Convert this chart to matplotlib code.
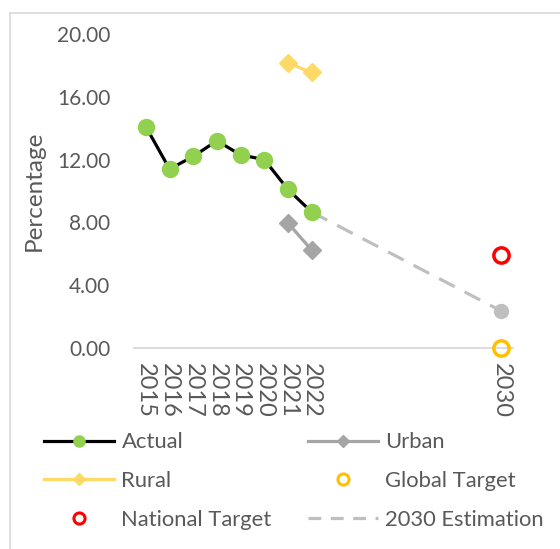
import matplotlib
matplotlib.use("Agg")
import matplotlib.pyplot as plt
from matplotlib.lines import Line2D

plt.rcParams['font.family'] = ['Lato', 'DejaVu Sans']

years = [2015, 2016, 2017, 2018, 2019, 2020, 2021, 2022]
actual = [14.1, 11.4, 12.2, 13.2, 12.3, 12.0, 10.1, 8.66]
urban_years = [2021, 2022]
urban = [7.96, 6.24]
rural_years = [2021, 2022]
rural = [18.15, 17.55]
est_years = [2022, 2030]
estimation = [8.66, 2.36]
target_year = [2030]
global_target = [0.0]
national_target = [5.95]
tick_years = [2015, 2016, 2017, 2018, 2019, 2020, 2021, 2022, 2030]
y_ticks = [0, 4, 8, 12, 16, 20]

TXT = '#595959'
fig = plt.figure(figsize=(5.6, 5.49), dpi=100)
ax = fig.add_axes([134/560, 1-348/549, 379/560, 314/549])

l_est, = ax.plot(est_years, estimation, color='#BFBFBF', lw=2.3, ls=(0, (5.5, 3.5)),
                 marker='o', markevery=[1], markersize=10, markerfacecolor='#BFBFBF',
                 markeredgecolor='#BFBFBF', zorder=2)
l_act, = ax.plot(years, actual, color='black', lw=2.3, marker='o', markersize=11.5,
                 markerfacecolor='#92D050', markeredgecolor='#92D050', zorder=3)
l_urb, = ax.plot(urban_years, urban, color='#A5A5A5', lw=2.3, marker='D', markersize=9,
                 markerfacecolor='#A5A5A5', markeredgecolor='#A5A5A5', zorder=3)
l_rur, = ax.plot(rural_years, rural, color='#FFD966', lw=2.3, marker='D', markersize=9,
                 markerfacecolor='#FFD966', markeredgecolor='#FFD966', zorder=3)
l_glo, = ax.plot(target_year, global_target, ls='none', marker='o', markersize=11,
                 markerfacecolor='none', markeredgecolor='#FFC000', markeredgewidth=2.5,
                 zorder=4, clip_on=False)
l_nat, = ax.plot(target_year, national_target, ls='none', marker='o', markersize=11,
                 markerfacecolor='none', markeredgecolor='#FF0000', markeredgewidth=2.5,
                 zorder=4)

ax.set_xlim(2014.5, 2030.5)
ax.set_ylim(0, 20)
ax.set_xticks(tick_years)
ax.set_xticklabels([str(y) for y in tick_years], rotation=-90, fontsize=17, color=TXT)
ax.set_yticks(y_ticks)
ax.set_yticklabels([f'{v:.2f}' for v in y_ticks], fontsize=15, color=TXT)
ax.tick_params(axis='both', length=0)
ax.tick_params(axis='y', pad=17)
ax.tick_params(axis='x', pad=11)
for s in ['top', 'right', 'left']:
    ax.spines[s].set_visible(False)
ax.spines['bottom'].set_color('#D9D9D9')
ax.spines['bottom'].set_linewidth(1.3)
ax.set_ylabel('Percentage', fontsize=17.5, color=TXT, labelpad=9)

labels = ['Actual', 'Rural', 'National Target', 'Urban', 'Global Target', '2030 Estimation']
leg_handles = [
    Line2D([], [], color='black', lw=2.3, marker='o', markersize=8,
           markerfacecolor='#92D050', markeredgecolor='#92D050'),
    Line2D([], [], color='#FFD966', lw=2.3, marker='D', markersize=6,
           markerfacecolor='#FFD966', markeredgecolor='#FFD966'),
    Line2D([], [], ls='none', marker='o', markersize=8, markerfacecolor='none',
           markeredgecolor='#FF0000', markeredgewidth=2.2),
    Line2D([], [], color='#A5A5A5', lw=2.3, marker='D', markersize=6,
           markerfacecolor='#A5A5A5', markeredgecolor='#A5A5A5'),
    Line2D([], [], ls='none', marker='o', markersize=8, markerfacecolor='none',
           markeredgecolor='#FFC000', markeredgewidth=2.2),
    Line2D([], [], color='#BFBFBF', lw=2.3, ls=(0, (4, 3))),
]
leg = fig.legend(leg_handles, labels, ncol=2, loc='center', bbox_to_anchor=(294/560, 1-481/549),
                 frameon=False, fontsize=15.8, handlelength=3.2, handletextpad=0.32,
                 columnspacing=1.65, labelspacing=0.85, labelcolor=TXT)

fig.add_artist(Line2D([10/560, 10/560], [0, 1-13/549], transform=fig.transFigure,
                      color='#D9D9D9', lw=1.2))
fig.add_artist(Line2D([10/560, 1], [1-13/549, 1-13/549], transform=fig.transFigure,
                      color='#D9D9D9', lw=1.2))

fig.savefig('out.png', dpi=100)
